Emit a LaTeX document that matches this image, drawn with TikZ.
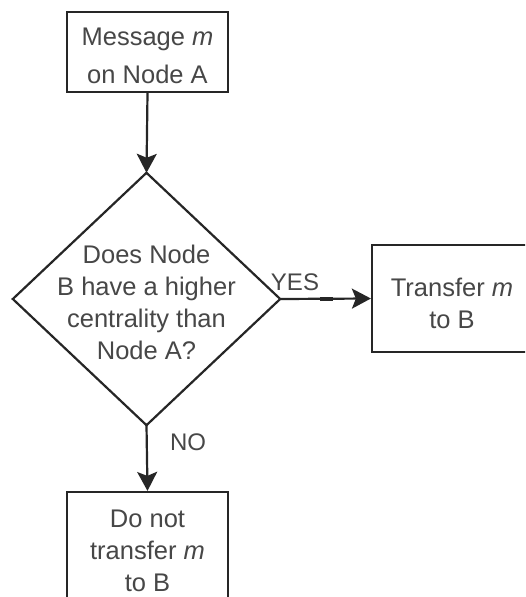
\documentclass[tikz,border=0pt]{standalone}
\usepackage{fontspec}
\setmainfont{Liberation Sans}
\usetikzlibrary{arrows.meta}
\begin{document}
\begin{tikzpicture}[x=1pt,y=-1pt,
  line/.style={draw=black!85,line width=2.2pt},
  txt/.style={text=black!72,font=\fontsize{25.5}{32}\selectfont,align=center,inner sep=0pt},
  boxnode/.style={line,rectangle,inner sep=0pt},
  arr/.style={line,-{Stealth[length=19pt,width=20pt,inset=4pt]}},
  lbl/.style={text=black!72,font=\fontsize{24}{28}\selectfont,inner sep=0pt}]
\useasboundingbox (0,0) rectangle (525,597);
\fill[white] (0,0) rectangle (525,597);
\begin{scope}
\clip (0,0) rectangle (525,597);
\node[boxnode,minimum width=161pt,minimum height=80pt] (start) at (147.5,52) {};
\node[txt,font=\fontsize{25.5}{38}\selectfont] at (147.5,56) {Message \textit{m}\\on Node A};
\node[inner sep=0pt,minimum width=267pt,minimum height=252pt] (dec) at (146.5,299) {};
\draw[line,line join=miter] (dec.north) -- (dec.east) -- (dec.south) -- (dec.west) -- cycle;
\node[txt] at (146.5,302) {Does Node\\B have a higher\\centrality than\\Node A?};
\node[boxnode,minimum width=156pt,minimum height=107pt] (yes) at (450,298.5) {};
\node[txt] at (452,303) {Transfer \textit{m}\\to B};
\node[boxnode,minimum width=161pt,minimum height=113pt] (no) at (147.5,548.5) {};
\node[txt] at (147.5,551) {Do not\\transfer \textit{m}\\to B};
\end{scope}
\draw[arr] (start.south) -- (dec.north);
\draw[arr] (dec.east) -- (yes.west);
\draw[arr] (dec.south) -- (no.north);
\coordinate (d1) at (320,299);
\coordinate (d2) at (333,299);
\draw[draw=black!85,line width=4.5pt] (d1) -- (d2);
\node[lbl] (yeslbl) at (295,282) {YES};
\node[lbl] (nolbl) at (188,442) {NO};
\end{tikzpicture}
\end{document}
